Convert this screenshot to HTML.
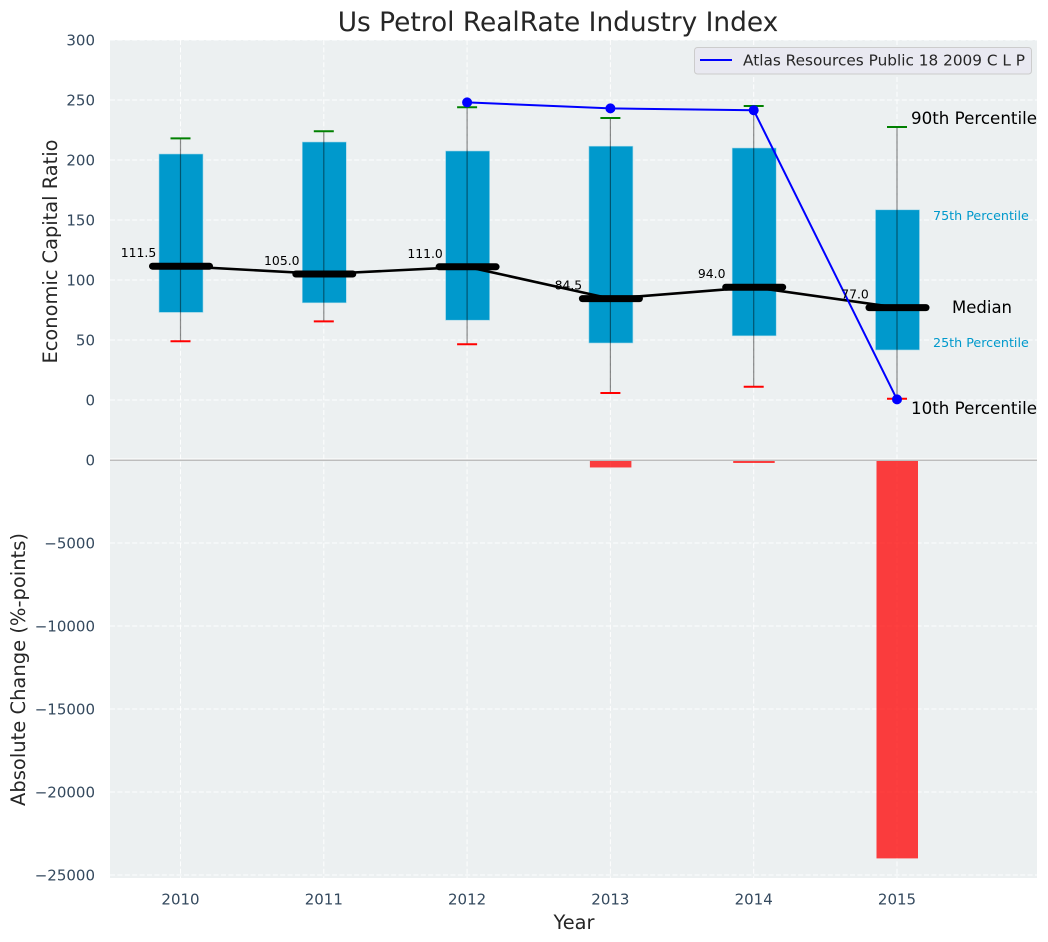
<!DOCTYPE html>
<html>
<head>
<meta charset="utf-8">
<title>Us Petrol RealRate Industry Index</title>
<style>
html,body{margin:0;padding:0;background:#fff;width:1048px;height:942px;overflow:hidden}
svg{display:block}
text{font-family:"DejaVu Sans","Liberation Sans",sans-serif}
</style>
</head>
<body>
<svg id="chart" xmlns="http://www.w3.org/2000/svg" width="1048" height="942" viewBox="0 0 1048 942">
  <rect x="110" y="40" width="927" height="420" fill="#ecf0f1"/>
  <rect x="110" y="460" width="927" height="418" fill="#ecf0f1"/>
  <g id="grid"></g>
  <g id="ticks"></g>
  <g id="bars"></g>
  <g id="boxes"></g>
  <g id="lines"></g>
  <text x="558" y="31" font-size="26.4px" text-anchor="middle" fill="#262626">Us Petrol RealRate Industry Index</text>
  <text transform="translate(57,251.5) rotate(-90)" font-size="19.4px" text-anchor="middle" fill="#262626">Economic Capital Ratio</text>
  <text transform="translate(25,669.5) rotate(-90)" font-size="19.5px" text-anchor="middle" fill="#262626">Absolute Change (%-points)</text>
  <text x="574" y="929" font-size="19.4px" text-anchor="middle" fill="#262626">Year</text>
  <text x="911" y="124" font-size="16.7px" fill="#000">90th Percentile</text>
  <text x="933" y="220" font-size="12.7px" fill="#0099cc">75th Percentile</text>
  <text x="952" y="313" font-size="16.5px" fill="#000">Median</text>
  <text x="933" y="347" font-size="12.7px" fill="#0099cc">25th Percentile</text>
  <text x="911" y="414" font-size="16.7px" fill="#000">10th Percentile</text>
  <g>
    <rect x="694.5" y="47.5" width="337" height="26.5" rx="3" fill="#e9e9f1" stroke="#cccccc" stroke-width="1"/>
    <line x1="700" y1="60" x2="732" y2="60" stroke="#0000ff" stroke-width="2"/>
    <text x="743" y="65.5" font-size="15.3px" fill="#262626">Atlas Resources Public 18 2009 C L P</text>
  </g>
</svg>
<script>
const years = [2010, 2011, 2012, 2013, 2014, 2015];
const p10 = [49, 65.5, 46.5, 5.8, 11, 1];
const p25 = [73, 81, 66.5, 47.5, 53.5, 41.7];
const medians = [111.5, 105.0, 111.0, 84.5, 94.0, 77.0];
const p75 = [205, 215, 207.5, 211.5, 210, 158.5];
const p90 = [218, 224, 244, 235, 245, 227.5];
const atlasYears = [2012, 2013, 2014, 2015];
const atlasValues = [248, 243, 241.5, 0.5];
const changeYears = [2013, 2014, 2015];
const changeValues = [-450, -180, -24000];
const upperTicks = [300, 250, 200, 150, 100, 50, 0];
const lowerTicks = [0, -5000, -10000, -15000, -20000, -25000];

const SVGNS = 'http://www.w3.org/2000/svg';
function x(v) { return 180.5 + (v - 2010) * 143.3; }
function yUp(v) { return 400 - v * 1.2; }
function yLow(v) { return 460 - v * 0.0166; }
function make(parent, tag, attrs, text) {
  const el = document.createElementNS(SVGNS, tag);
  for (const k in attrs) el.setAttribute(k, attrs[k]);
  if (text !== undefined) el.textContent = text;
  parent.appendChild(el);
  return el;
}
const grid = document.getElementById('grid');
const ticks = document.getElementById('ticks');
const bars = document.getElementById('bars');
const boxes = document.getElementById('boxes');
const lines = document.getElementById('lines');
const gridStyle = { stroke: '#ffffff', 'stroke-width': 1, 'stroke-dasharray': '5 2.4', 'stroke-opacity': 0.9 };

years.forEach(function (yr) {
  const gl = make(grid, 'line', Object.assign({ x1: x(yr), x2: x(yr), y1: 40, y2: 878 }, gridStyle));
  
  
  const tl = make(ticks, 'text', { x: x(yr), y: 904.5, 'font-size': '15px', 'text-anchor': 'middle', fill: '#34495e' }, String(yr));
  
  
});
upperTicks.forEach(function (t) {
  const gl = make(grid, 'line', Object.assign({ x1: 110, x2: 1037, y1: yUp(t), y2: yUp(t) }, gridStyle));
  
  
  const tl = make(ticks, 'text', { x: 95, y: yUp(t) + 5.5, 'font-size': '15px', 'text-anchor': 'end', fill: '#34495e' }, String(t));
  
  
});
lowerTicks.forEach(function (t) {
  const gl = make(grid, 'line', Object.assign({ x1: 110, x2: 1037, y1: yLow(t), y2: yLow(t) }, gridStyle));
  
  
  const label = t < 0 ? '\u2212' + Math.abs(t) : String(t);
  const tl = make(ticks, 'text', { x: 95, y: yLow(t) + 5.5, 'font-size': '15px', 'text-anchor': 'end', fill: '#34495e' }, label);
  
  
});

changeValues.forEach(function (v, i) {
  const cx = x(changeYears[i]);
  const b = make(bars, 'rect', { x: cx - 20.5, y: yLow(0), width: 41.5, height: yLow(v) - yLow(0), fill: '#ff0000', 'fill-opacity': 0.75 });
  
  
});
const axisSeam = make(bars, 'line', { x1: 110, x2: 1037, y1: 459, y2: 459, stroke: '#ffffff', 'stroke-width': 1 });


const zeroLine = make(bars, 'line', { x1: 110, x2: 1037, y1: yLow(0) + 0.2, y2: yLow(0) + 0.2, stroke: '#bdbdbd', 'stroke-width': 1.5 });



years.forEach(function (yr, i) {
  const cx = x(yr);
  const box = make(boxes, 'rect', { x: cx - 21.5, y: yUp(p75[i]), width: 44, height: yUp(p25[i]) - yUp(p75[i]), fill: '#0099cc', stroke: '#9fd6e8', 'stroke-width': 0.6 });
  
  
  const whisker = make(boxes, 'line', { x1: cx, x2: cx, y1: yUp(p90[i]), y2: yUp(p10[i]), stroke: '#000', 'stroke-opacity': 0.45, 'stroke-width': 1.2 });
  
  
  const capHigh = make(boxes, 'line', { x1: cx - 10, x2: cx + 10, y1: yUp(p90[i]), y2: yUp(p90[i]), stroke: '#008000', 'stroke-width': 2 });
  
  
  const capLow = make(boxes, 'line', { x1: cx - 10, x2: cx + 10, y1: yUp(p10[i]), y2: yUp(p10[i]), stroke: '#ff0000', 'stroke-width': 2 });
  
  
});

const medianPath = make(lines, 'polyline', {
  points: years.map(function (yr, i) { return x(yr) + ',' + yUp(medians[i]); }).join(' '),
  fill: 'none', stroke: '#000', 'stroke-width': 2.6
});



years.forEach(function (yr, i) {
  const cx = x(yr) + 0.5;
  const m = make(lines, 'line', { x1: cx - 28.5, x2: cx + 28.5, y1: yUp(medians[i]), y2: yUp(medians[i]), stroke: '#000', 'stroke-width': 7, 'stroke-linecap': 'round' });
  
  
});

const atlasPath = make(lines, 'polyline', {
  points: atlasYears.map(function (yr, i) { return x(yr) + ',' + yUp(atlasValues[i]); }).join(' '),
  fill: 'none', stroke: '#0000ff', 'stroke-width': 2
});


atlasYears.forEach(function (yr, i) {
  const dot = make(lines, 'circle', { cx: x(yr), cy: yUp(atlasValues[i]), r: 5, fill: '#0000ff' });
  
  
});

years.forEach(function (yr, i) {
  const label = make(lines, 'text', { x: x(yr) - 42, y: yUp(medians[i]) - 9, 'font-size': '12.4px', 'text-anchor': 'middle', fill: '#000' }, medians[i].toFixed(1));
  
  
});
</script>
</body>
</html>
